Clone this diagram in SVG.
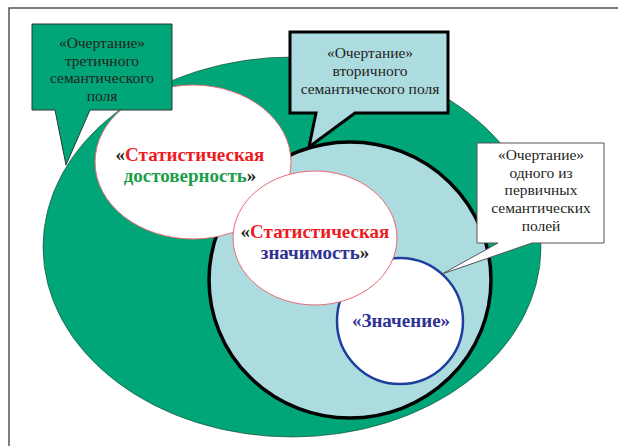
<svg xmlns="http://www.w3.org/2000/svg" width="618" height="446" viewBox="0 0 618 446">
<style>
.t{font-size:15.5px;fill:#231f20;text-anchor:middle}
.b{font-size:19px;font-weight:bold;fill:#231f20;text-anchor:middle}
.red{fill:#ed1c24}.grn{fill:#1c9e4b}.blu{fill:#2e3192}
.oval{fill:#ffffff;stroke:#e86a72;stroke-width:1}
</style>
<rect x="0" y="0" width="618" height="446" fill="#ffffff"/>
<rect id="frame" x="9" y="8" width="640" height="460" fill="none" stroke="#555" stroke-width="1.5"/>
<g id="field3"><ellipse cx="292" cy="247" rx="249" ry="190" fill="#00a677" stroke="#1a3a2a" stroke-width="0.6"/></g>
<g id="field2"><ellipse cx="350" cy="280" rx="141" ry="138" fill="#acdce0" stroke="#000" stroke-width="3.5"/></g>
<g id="znachenie">
<circle cx="400" cy="321" r="63" fill="#fff" stroke="#1f3f9c" stroke-width="2.5"/>
</g>
<g font-family="Liberation Serif, serif">
<g id="dostovernost">
<ellipse class="oval" cx="193" cy="162" rx="98" ry="77"/>
<text class="b" x="190" y="161">«<tspan class="red">Статистическая</tspan></text>
<text class="b" x="190" y="182"><tspan class="grn">достоверность</tspan>»</text>
</g>
<g id="znachimost">
<ellipse class="oval" cx="315" cy="238" rx="82" ry="67"/>
<text class="b" x="315" y="238">«<tspan class="red">Статистическая</tspan></text>
<text class="b" x="315" y="259"><tspan class="blu">значимость</tspan>»</text>
</g>
<g id="znachenie-label">
<text class="b blu" x="401" y="327">«Значение»</text>
</g>
<g id="callout3rd">
<path d="M32,24 H172 V110 H90 L66,165 L55,110 H32 Z" fill="#00a677" stroke="#333" stroke-width="1"/>
<text class="t" x="102" y="48">«Очертание»</text>
<text class="t" x="102" y="65.5">третичного</text>
<text class="t" x="102" y="83">семантического</text>
<text class="t" x="102" y="100.5">поля</text>
</g>
<g id="callout2nd">
<path d="M290,32 H448 V113 H355 L309,147 L316,113 H290 Z" fill="#acdce0" stroke="#000" stroke-width="3"/>
<text class="t" x="370" y="58">«Очертание»</text>
<text class="t" x="370" y="76">вторичного</text>
<text class="t" x="370" y="94">семантического поля</text>
</g>
<g id="callout1st">
<path d="M477,143 H604 V243 H532 L442,274 L498,243 H477 Z" fill="#fff" stroke="#555" stroke-width="1"/>
<text class="t" x="541" y="160">«Очертание»</text>
<text class="t" x="541" y="177.5">одного из</text>
<text class="t" x="541" y="195">первичных</text>
<text class="t" x="541" y="213">семантических</text>
<text class="t" x="541" y="231">полей</text>
</g>
</g>
</svg>
